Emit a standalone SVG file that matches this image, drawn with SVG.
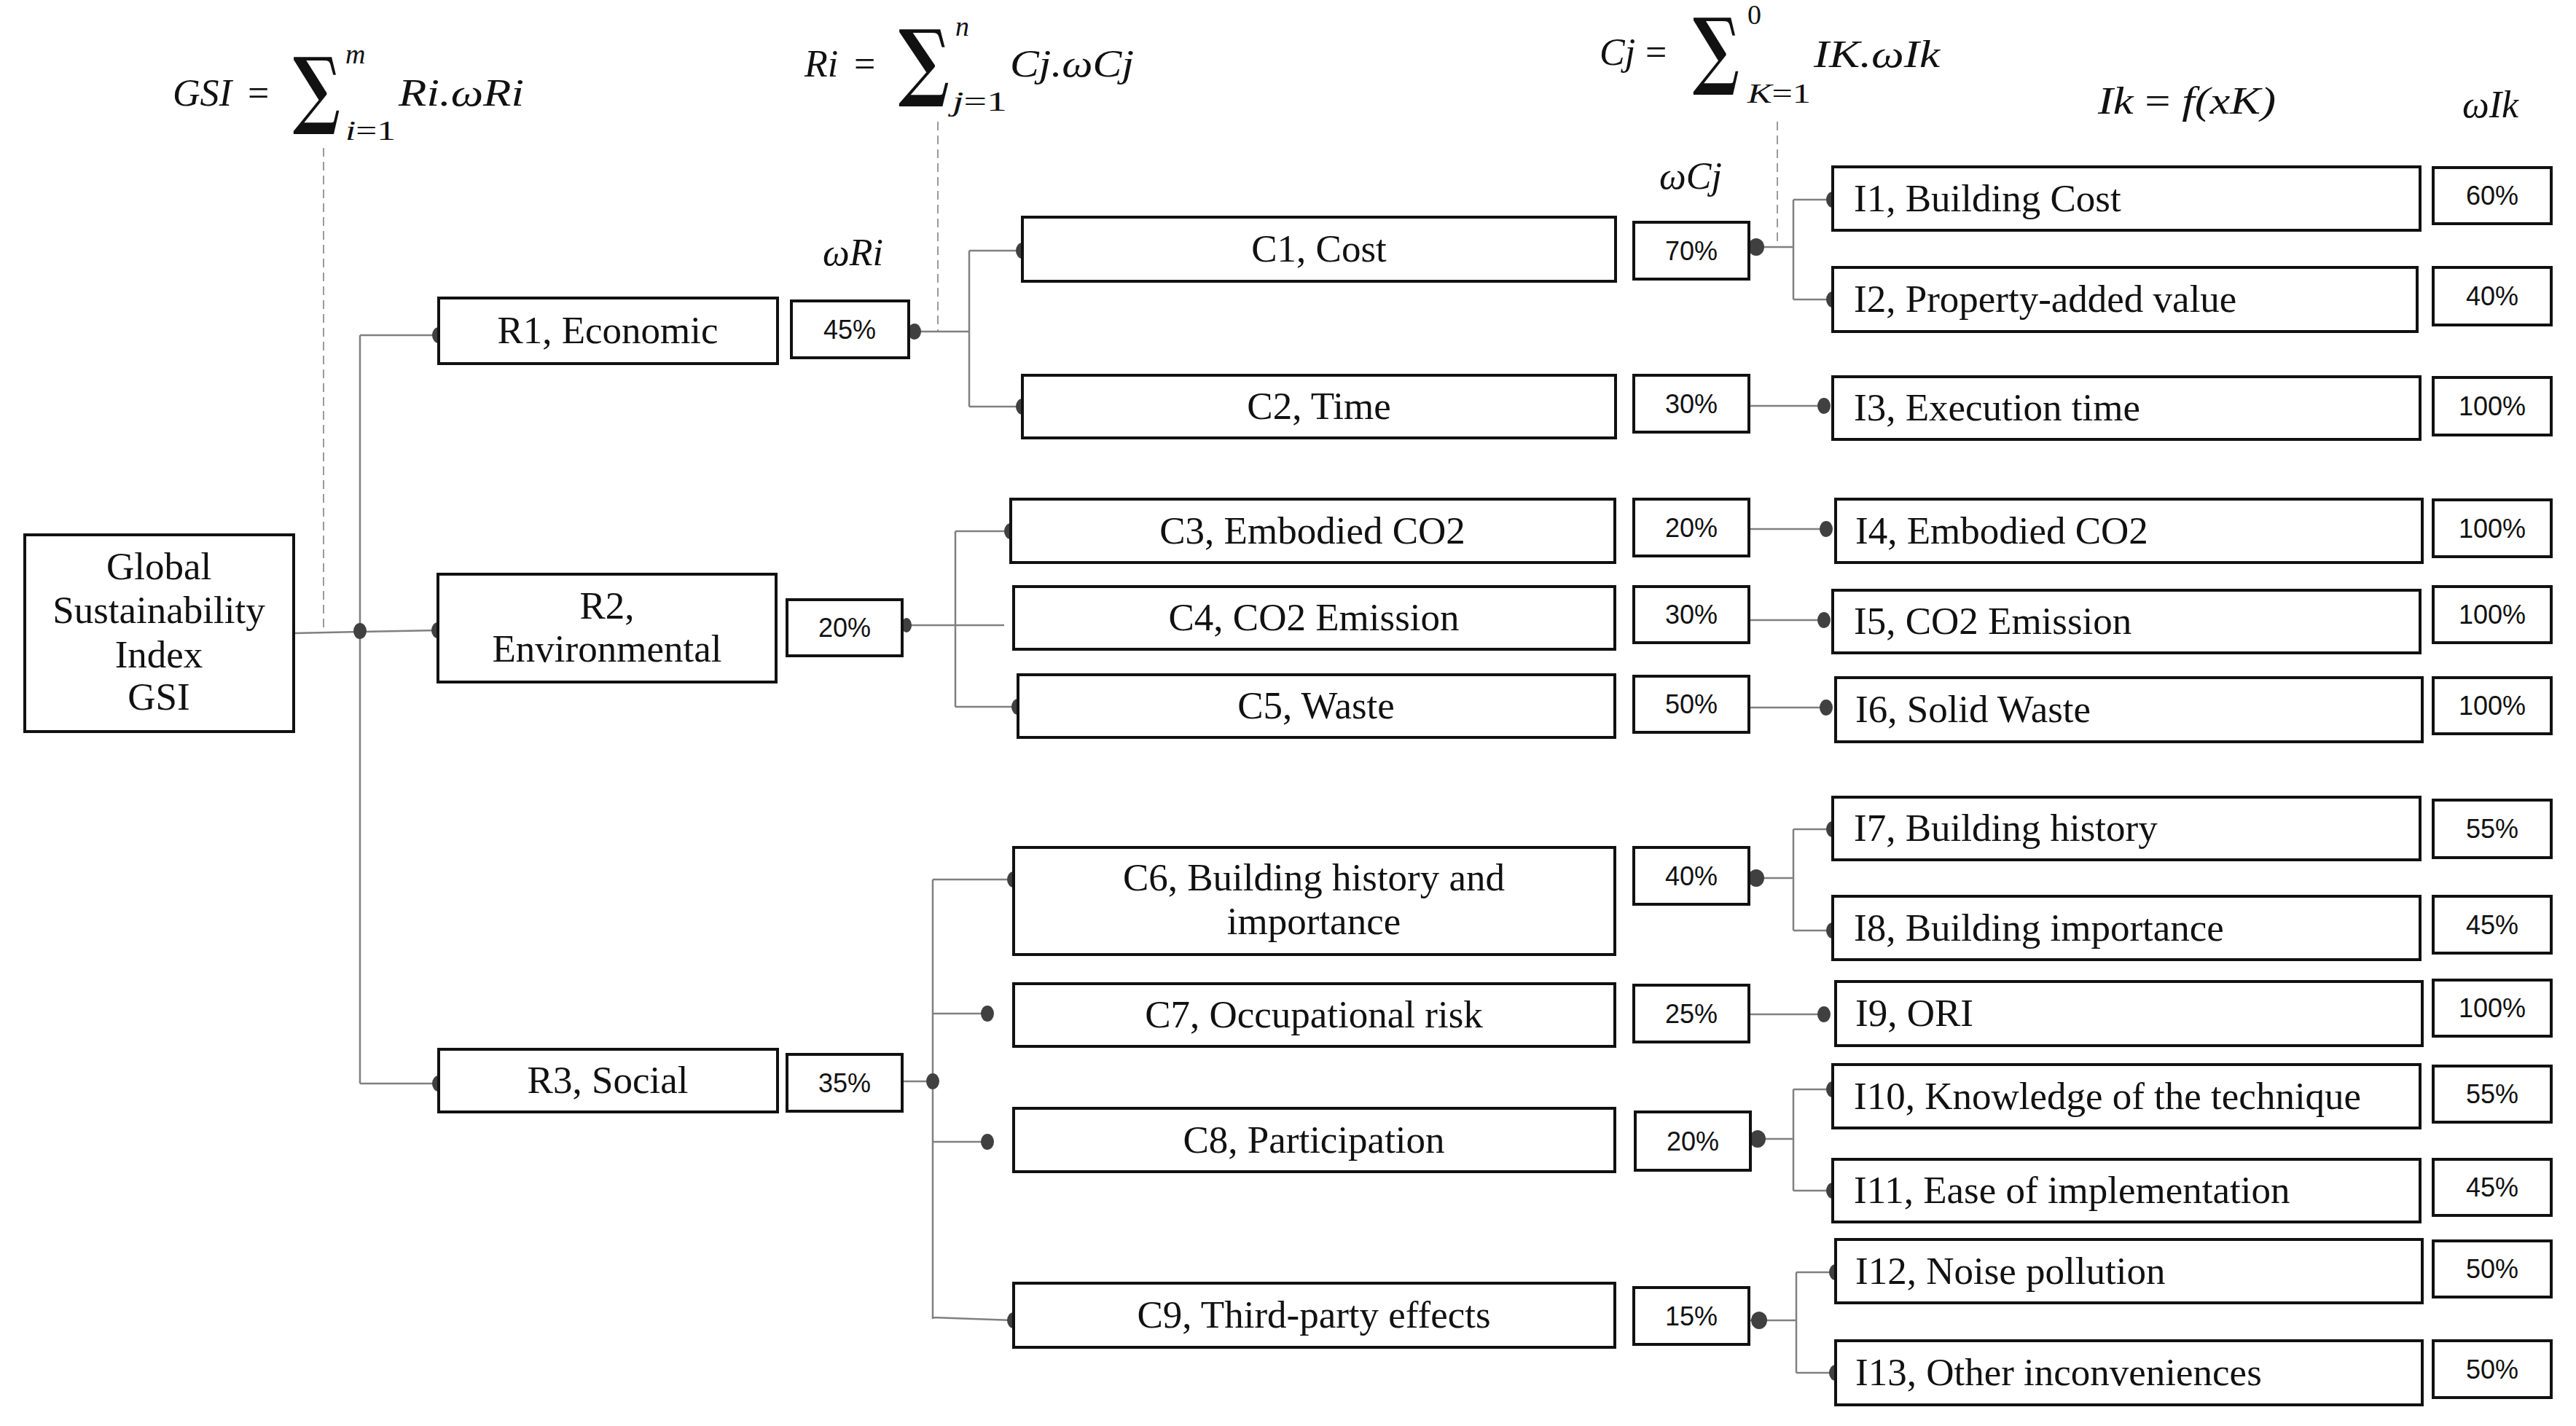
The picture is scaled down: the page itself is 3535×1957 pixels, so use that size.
<svg xmlns="http://www.w3.org/2000/svg" width="3535" height="1957" viewBox="0 0 3535 1957">
<style>
.box{fill:#fff;stroke:#111;stroke-width:4}
.lbl{font-family:"Liberation Serif",serif;font-size:53px;fill:#111;text-anchor:middle}
.lbll{font-family:"Liberation Serif",serif;font-size:53px;fill:#111;text-anchor:start}
.pct{font-family:"Liberation Sans",sans-serif;font-size:36px;fill:#111;text-anchor:middle}
.math{font-family:"Liberation Serif",serif;font-style:italic;font-size:52px;fill:#111}
.up{font-family:"Liberation Serif",serif;font-style:normal;font-size:52px;fill:#111}
.small{font-family:"Liberation Serif",serif;font-style:italic;font-size:38px;fill:#111}
.nrm{font-style:normal}
.sig{font-family:"DejaVu Serif",serif;font-weight:bold;font-size:116px;fill:#111}
.conn{stroke:#808080;stroke-width:2.5;fill:none}
.dash{stroke:#9a9a9a;stroke-width:2;stroke-dasharray:12 7;fill:none}
.dot{fill:#404040}
</style>

<g id="formulas">
  <text class="math" x="237" y="145" textLength="81" lengthAdjust="spacingAndGlyphs">GSI</text>
  <text class="up" x="340" y="145">=</text>
  <text class="sig" x="402" y="162" textLength="65" lengthAdjust="spacingAndGlyphs">∑</text>
  <text class="small" x="474" y="87">m</text>
  <text class="small" x="474" y="192" textLength="69" lengthAdjust="spacingAndGlyphs">i<tspan class="nrm">=1</tspan></text>
  <text class="math" x="547" y="145" textLength="172" lengthAdjust="spacingAndGlyphs">Ri.ωRi</text>

  <text class="math" x="1104" y="105">Ri</text>
  <text class="up" x="1172" y="105">=</text>
  <text class="sig" x="1233" y="124" textLength="70" lengthAdjust="spacingAndGlyphs">∑</text>
  <text class="small" x="1311" y="49">n</text>
  <text class="small" x="1307" y="152" textLength="75" lengthAdjust="spacingAndGlyphs">j<tspan class="nrm">=1</tspan></text>
  <text class="math" x="1386" y="105" textLength="170" lengthAdjust="spacingAndGlyphs">Cj.ωCj</text>

  <text class="math" x="2195" y="89">Cj</text>
  <text class="up" x="2258" y="89">=</text>
  <text class="sig" x="2323" y="108" textLength="64" lengthAdjust="spacingAndGlyphs">∑</text>
  <text class="small" x="2398" y="33" font-size="32"><tspan class="nrm">0</tspan></text>
  <text class="small" x="2398" y="141" textLength="87" lengthAdjust="spacingAndGlyphs">K<tspan class="nrm">=1</tspan></text>
  <text class="math" x="2489" y="92" textLength="173" lengthAdjust="spacingAndGlyphs">IK.ωIk</text>

  <text class="math" x="2879" y="156" textLength="244" lengthAdjust="spacingAndGlyphs">Ik <tspan class="nrm">=</tspan> f(xK)</text>
  <text class="math" x="3379" y="161">ωIk</text>
  <text class="math" x="2277" y="259">ωCj</text>
  <text class="math" x="1129" y="364">ωRi</text>
</g>

<g id="connectors">
  <line class="dash" x1="444" y1="203" x2="444" y2="866"/>
  <line class="dash" x1="1287" y1="167" x2="1287" y2="455"/>
  <line class="dash" x1="2439" y1="167" x2="2439" y2="339"/>

  <path class="conn" d="M403,869 L494,867 L601,865 M494,460 V1487 M494,460 H602 M494,1487 H602"/>
  <path class="conn" d="M1247,455 H1330 M1330,344 V558 M1330,344 H1403 M1330,558 H1403"/>
  <path class="conn" d="M1238,858 H1378 M1311,729 V970 M1311,729 H1387 M1311,970 H1397"/>
  <path class="conn" d="M1238,1484 H1280 M1280,1207 V1810 M1280,1207 H1391 M1280,1391 H1355 M1280,1567 H1355 M1280,1808 L1391,1812"/>

  <path class="conn" d="M2400,339 H2461 M2461,274 V411 M2461,274 H2515 M2461,411 H2515"/>
  <path class="conn" d="M2400,557 H2503 M2400,726 H2506 M2400,851 H2503 M2400,971 H2506 M2400,1392 H2503"/>
  <path class="conn" d="M2400,1205 H2461 M2461,1138 V1277 M2461,1138 H2515 M2461,1277 H2515"/>
  <path class="conn" d="M2402,1563 H2461 M2461,1495 V1634 M2461,1495 H2515 M2461,1634 H2515"/>
  <path class="conn" d="M2400,1812 H2465 M2465,1746 V1884 M2465,1746 H2519 M2465,1884 H2519"/>

  <ellipse class="dot" cx="494" cy="866" rx="9" ry="11"/>
  <ellipse class="dot" cx="601" cy="865" rx="9" ry="11"/>
  <ellipse class="dot" cx="602" cy="460" rx="9" ry="11"/>
  <ellipse class="dot" cx="602" cy="1487" rx="9" ry="11"/>

  <ellipse class="dot" cx="1255" cy="455" rx="9" ry="11"/>
  <ellipse class="dot" cx="1403" cy="344" rx="9" ry="11"/>
  <ellipse class="dot" cx="1403" cy="558" rx="9" ry="11"/>

  <ellipse class="dot" cx="1244" cy="858" rx="7" ry="10"/>
  <ellipse class="dot" cx="1387" cy="729" rx="9" ry="11"/>
  <ellipse class="dot" cx="1397" cy="970" rx="9" ry="11"/>

  <ellipse class="dot" cx="1280" cy="1484" rx="9" ry="11"/>
  <ellipse class="dot" cx="1391" cy="1207" rx="9" ry="11"/>
  <ellipse class="dot" cx="1355" cy="1391" rx="9" ry="11"/>
  <ellipse class="dot" cx="1355" cy="1567" rx="9" ry="11"/>
  <ellipse class="dot" cx="1391" cy="1812" rx="9" ry="11"/>

  <ellipse class="dot" cx="2410" cy="339" rx="11" ry="12"/>
  <ellipse class="dot" cx="2515" cy="274" rx="9" ry="11"/>
  <ellipse class="dot" cx="2515" cy="411" rx="9" ry="11"/>
  <ellipse class="dot" cx="2503" cy="557" rx="9" ry="11"/>
  <ellipse class="dot" cx="2506" cy="726" rx="9" ry="11"/>
  <ellipse class="dot" cx="2503" cy="851" rx="9" ry="11"/>
  <ellipse class="dot" cx="2506" cy="971" rx="9" ry="11"/>
  <ellipse class="dot" cx="2410" cy="1205" rx="11" ry="12"/>
  <ellipse class="dot" cx="2515" cy="1138" rx="9" ry="11"/>
  <ellipse class="dot" cx="2515" cy="1277" rx="9" ry="11"/>
  <ellipse class="dot" cx="2503" cy="1392" rx="9" ry="11"/>
  <ellipse class="dot" cx="2412" cy="1563" rx="11" ry="12"/>
  <ellipse class="dot" cx="2515" cy="1495" rx="9" ry="11"/>
  <ellipse class="dot" cx="2515" cy="1634" rx="9" ry="11"/>
  <ellipse class="dot" cx="2414" cy="1812" rx="11" ry="12"/>
  <ellipse class="dot" cx="2519" cy="1746" rx="9" ry="11"/>
  <ellipse class="dot" cx="2519" cy="1884" rx="9" ry="11"/>
</g>

<g id="GSI"><rect class="box" x="34" y="734" width="369" height="270"/>
  <text class="lbl"><tspan x="218" y="795">Global</tspan><tspan x="218" y="855">Sustainability</tspan><tspan x="218" y="916">Index</tspan><tspan x="218" y="974">GSI</tspan></text></g>

<g id="R1"><rect class="box" x="602" y="409" width="465" height="90"/><text class="lbl" x="834" y="471">R1, Economic</text></g>
<g id="R1w"><rect class="box" x="1086" y="413" width="161" height="78"/><text class="pct" x="1166" y="465">45%</text></g>
<g id="R2"><rect class="box" x="601" y="788" width="464" height="148"/><text class="lbl"><tspan x="833" y="849">R2,</tspan><tspan x="833" y="908">Environmental</tspan></text></g>
<g id="R2w"><rect class="box" x="1080" y="823" width="158" height="77"/><text class="pct" x="1159" y="874">20%</text></g>
<g id="R3"><rect class="box" x="602" y="1440" width="465" height="86"/><text class="lbl" x="834" y="1500">R3, Social</text></g>
<g id="R3w"><rect class="box" x="1080" y="1447" width="158" height="78"/><text class="pct" x="1159" y="1499">35%</text></g>

<g id="C1"><rect class="box" x="1403" y="298" width="814" height="88"/><text class="lbl" x="1810" y="359">C1, Cost</text></g>
<g id="C2"><rect class="box" x="1403" y="515" width="814" height="86"/><text class="lbl" x="1810" y="575">C2, Time</text></g>
<g id="C3"><rect class="box" x="1387" y="685" width="829" height="87"/><text class="lbl" x="1801" y="746">C3, Embodied CO2</text></g>
<g id="C4"><rect class="box" x="1391" y="805" width="825" height="86"/><text class="lbl" x="1803" y="865">C4, CO2 Emission</text></g>
<g id="C5"><rect class="box" x="1397" y="926" width="819" height="86"/><text class="lbl" x="1806" y="986">C5, Waste</text></g>
<g id="C6"><rect class="box" x="1391" y="1163" width="825" height="147"/><text class="lbl"><tspan x="1803" y="1222">C6, Building history and</tspan><tspan x="1803" y="1282">importance</tspan></text></g>
<g id="C7"><rect class="box" x="1391" y="1350" width="825" height="86"/><text class="lbl" x="1803" y="1410">C7, Occupational risk</text></g>
<g id="C8"><rect class="box" x="1391" y="1521" width="825" height="87"/><text class="lbl" x="1803" y="1582">C8, Participation</text></g>
<g id="C9"><rect class="box" x="1391" y="1761" width="825" height="88"/><text class="lbl" x="1803" y="1822">C9, Third-party effects</text></g>

<g id="C1w"><rect class="box" x="2242" y="305" width="158" height="78"/><text class="pct" x="2321" y="357">70%</text></g>
<g id="C2w"><rect class="box" x="2242" y="515" width="158" height="78"/><text class="pct" x="2321" y="567">30%</text></g>
<g id="C3w"><rect class="box" x="2242" y="685" width="158" height="78"/><text class="pct" x="2321" y="737">20%</text></g>
<g id="C4w"><rect class="box" x="2242" y="805" width="158" height="77"/><text class="pct" x="2321" y="856">30%</text></g>
<g id="C5w"><rect class="box" x="2242" y="928" width="158" height="77"/><text class="pct" x="2321" y="979">50%</text></g>
<g id="C6w"><rect class="box" x="2242" y="1163" width="158" height="78"/><text class="pct" x="2321" y="1215">40%</text></g>
<g id="C7w"><rect class="box" x="2242" y="1352" width="158" height="78"/><text class="pct" x="2321" y="1404">25%</text></g>
<g id="C8w"><rect class="box" x="2244" y="1526" width="158" height="80"/><text class="pct" x="2323" y="1579">20%</text></g>
<g id="C9w"><rect class="box" x="2242" y="1767" width="158" height="78"/><text class="pct" x="2321" y="1819">15%</text></g>

<g id="I1"><rect class="box" x="2515" y="229" width="806" height="87"/><text class="lbll" x="2544" y="290">I1, Building Cost</text></g>
<g id="I2"><rect class="box" x="2515" y="367" width="802" height="88"/><text class="lbll" x="2544" y="428">I2, Property-added value</text></g>
<g id="I3"><rect class="box" x="2515" y="517" width="806" height="86"/><text class="lbll" x="2544" y="577">I3, Execution time</text></g>
<g id="I4"><rect class="box" x="2519" y="685" width="805" height="87"/><text class="lbll" x="2546" y="746">I4, Embodied CO2</text></g>
<g id="I5"><rect class="box" x="2515" y="810" width="806" height="86"/><text class="lbll" x="2544" y="870">I5, CO2 Emission</text></g>
<g id="I6"><rect class="box" x="2519" y="930" width="805" height="88"/><text class="lbll" x="2546" y="991">I6, Solid Waste</text></g>
<g id="I7"><rect class="box" x="2515" y="1094" width="806" height="86"/><text class="lbll" x="2544" y="1154">I7, Building history</text></g>
<g id="I8"><rect class="box" x="2515" y="1230" width="806" height="87"/><text class="lbll" x="2544" y="1291">I8, Building importance</text></g>
<g id="I9"><rect class="box" x="2519" y="1347" width="805" height="88"/><text class="lbll" x="2546" y="1408">I9, ORI</text></g>
<g id="I10"><rect class="box" x="2515" y="1461" width="806" height="87"/><text class="lbll" x="2544" y="1522">I10, Knowledge of the technique</text></g>
<g id="I11"><rect class="box" x="2515" y="1591" width="806" height="86"/><text class="lbll" x="2544" y="1651">I11, Ease of implementation</text></g>
<g id="I12"><rect class="box" x="2519" y="1701" width="805" height="87"/><text class="lbll" x="2546" y="1762">I12, Noise pollution</text></g>
<g id="I13"><rect class="box" x="2519" y="1840" width="805" height="88"/><text class="lbll" x="2546" y="1901">I13, Other inconveniences</text></g>

<g id="I1w"><rect class="box" x="3339" y="230" width="162" height="77"/><text class="pct" x="3420" y="281">60%</text></g>
<g id="I2w"><rect class="box" x="3339" y="367" width="162" height="79"/><text class="pct" x="3420" y="419">40%</text></g>
<g id="I3w"><rect class="box" x="3339" y="518" width="162" height="79"/><text class="pct" x="3420" y="570">100%</text></g>
<g id="I4w"><rect class="box" x="3339" y="686" width="162" height="78"/><text class="pct" x="3420" y="738">100%</text></g>
<g id="I5w"><rect class="box" x="3339" y="805" width="162" height="77"/><text class="pct" x="3420" y="856">100%</text></g>
<g id="I6w"><rect class="box" x="3339" y="930" width="162" height="77"/><text class="pct" x="3420" y="981">100%</text></g>
<g id="I7w"><rect class="box" x="3339" y="1098" width="162" height="79"/><text class="pct" x="3420" y="1150">55%</text></g>
<g id="I8w"><rect class="box" x="3339" y="1230" width="162" height="78"/><text class="pct" x="3420" y="1282">45%</text></g>
<g id="I9w"><rect class="box" x="3339" y="1345" width="162" height="77"/><text class="pct" x="3420" y="1396">100%</text></g>
<g id="I10w"><rect class="box" x="3339" y="1463" width="162" height="77"/><text class="pct" x="3420" y="1514">55%</text></g>
<g id="I11w"><rect class="box" x="3339" y="1591" width="162" height="77"/><text class="pct" x="3420" y="1642">45%</text></g>
<g id="I12w"><rect class="box" x="3339" y="1703" width="162" height="77"/><text class="pct" x="3420" y="1754">50%</text></g>
<g id="I13w"><rect class="box" x="3339" y="1840" width="162" height="78"/><text class="pct" x="3420" y="1892">50%</text></g>
</svg>
